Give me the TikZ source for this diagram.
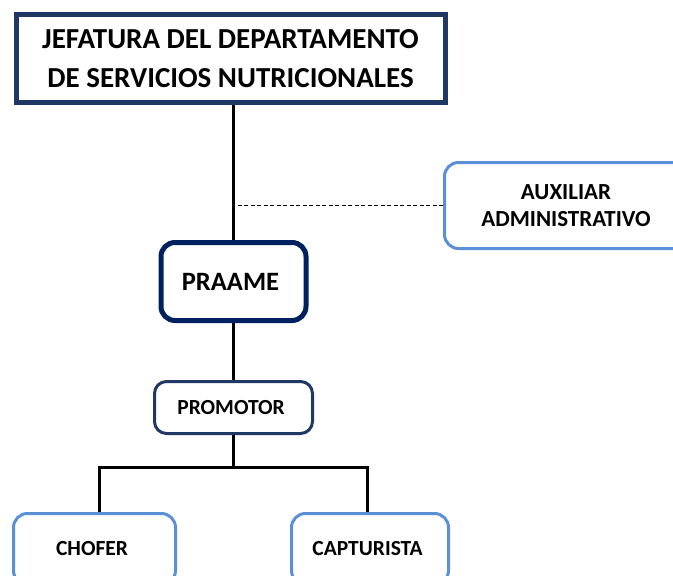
\documentclass[tikz,border=0pt]{standalone}
\usepackage{fontspec}
\setmainfont{Carlito}
\usetikzlibrary{positioning}
\usepackage{xcolor}
\definecolor{navy}{RGB}{31, 56, 100}
\definecolor{darknavy}{RGB}{0, 32, 96}
\definecolor{lightblue}{RGB}{91, 143, 214}

\begin{document}
\begin{tikzpicture}[
        x=1pt, y=-1pt,
        unitbox/.style={
            rectangle,
            rounded corners=14pt,
            align=center,
            font=\bfseries
        },
        staffbox/.style={
            unitbox,
            draw=lightblue,
            line width=3pt
        },
        link/.style={
            line width=3pt
        }
    ]

        \useasboundingbox (0,0) rectangle (673,576);
        \clip (0,0) rectangle (673,576);

        \node (jefatura) [
            rectangle,
            draw=navy,
            line width=5pt,
            minimum width=429pt,
            minimum height=88pt,
            align=center,
            font=\fontsize{29}{39}\selectfont\bfseries
        ] at (230.5,58.5)
        {
            JEFATURA DEL DEPARTAMENTO\\
            DE SERVICIOS NUTRICIONALES
        };

        \node (auxiliar) [
            staffbox,
            minimum width=243pt,
            minimum height=86pt,
            font=\fontsize{23}{27}\selectfont\bfseries
        ] at (566,205.5)
        {
            AUXILIAR\\
            ADMINISTRATIVO
        };

        \node (praame) [
            unitbox,
            draw=darknavy,
            line width=5pt,
            minimum width=145pt,
            minimum height=78pt,
            font=\fontsize{26.5}{30}\selectfont\bfseries
        ] at (233.5,281.5)
        {
            PRAAME
        };

        \node (promotor) [
            unitbox,
            draw=navy,
            line width=3pt,
            rounded corners=12pt,
            minimum width=158pt,
            minimum height=52pt,
            font=\fontsize{21.5}{24}\selectfont\bfseries
        ] at (233.5,407.5)
        {
            PROMOTOR
        };

        \node (chofer) [
            staffbox,
            minimum width=162pt,
            minimum height=71pt,
            font=\fontsize{21.5}{24}\selectfont\bfseries
        ] at (94.5,549)
        {
            CHOFER
        };

        \node (capturista) [
            staffbox,
            minimum width=157pt,
            minimum height=71pt,
            font=\fontsize{21.5}{24}\selectfont\bfseries
        ] at (370,549)
        {
            CAPTURISTA
        };

        \coordinate (branch) at (233.5,467);

        \draw[link] (praame.north) -- (praame.north |- jefatura.south);
        \draw[line width=1.2pt, dash pattern=on 4pt off 2.5pt] (auxiliar.west) -- (auxiliar.west -| praame.north);
        \draw[link] (praame.south) -- (promotor.north);
        \draw[link] (promotor.south) -- (branch);
        \draw[link] ([xshift=4.5pt]chofer.north) |- (branch) -| ([xshift=-3pt]capturista.north);
    \end{tikzpicture}
\end{document}
